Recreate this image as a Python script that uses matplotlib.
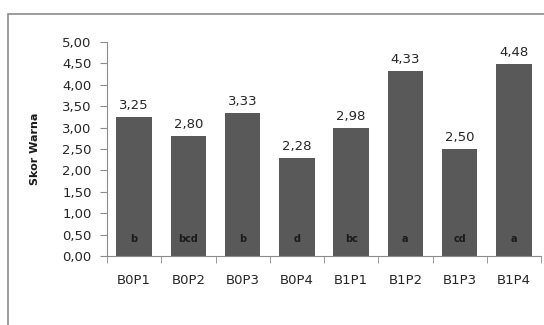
import numpy as np
import matplotlib.pyplot as plt
from matplotlib.patches import Rectangle
from matplotlib.ticker import FuncFormatter

# Skor warna per perlakuan
perlakuan = ['B0P1', 'B0P2', 'B0P3', 'B0P4', 'B1P1', 'B1P2', 'B1P3', 'B1P4']
skor = [3.25, 2.80, 3.33, 2.28, 2.98, 4.33, 2.50, 4.48]
notasi = ['b', 'bcd', 'b', 'd', 'bc', 'a', 'cd', 'a']

fig = plt.figure(figsize=(5.44, 3.25), dpi=100)
fig.patch.set_facecolor('white')

# frame around the chart area
fig.patches.append(Rectangle((8 / 544, -0.1), 1.2, 1 - 14 / 325 + 0.1,
                             transform=fig.transFigure, fill=False,
                             edgecolor='#8c8c8c', linewidth=1.2))

ax = fig.add_axes([107 / 544, 1 - 256 / 325, (541 - 107) / 544, (256 - 42) / 325])

x = np.arange(len(perlakuan))
ax.bar(x, skor, width=0.65, color='#595959', zorder=2)

for xi, v, n in zip(x, skor, notasi):
    ax.text(xi, v + 0.12, f'{v:.2f}'.replace('.', ','), ha='center', va='bottom',
            fontsize=9.5, color='#262626')
    ax.text(xi, 0.4, n, ha='center', va='center', fontsize=7,
            fontweight='bold', color='#1a1a1a')

ax.set_xlim(-0.5, len(perlakuan) - 0.5)
ax.set_ylim(0, 5)
ax.set_yticks(np.arange(0, 5.01, 0.5))
ax.yaxis.set_major_formatter(FuncFormatter(lambda v, p: f'{v:.2f}'.replace('.', ',')))

ax.set_xticks(x)
ax.set_xticklabels(perlakuan)
ax.set_xticks(np.arange(-0.5, len(perlakuan)), minor=True)
ax.tick_params(axis='x', which='major', length=0, pad=13, labelsize=9.5, labelcolor='#262626')
ax.tick_params(axis='x', which='minor', length=5, direction='out', color='#8c8c8c')
ax.tick_params(axis='y', length=5, direction='out', color='#8c8c8c', labelsize=9.5,
               labelcolor='#262626', pad=6)

for side in ['top', 'right']:
    ax.spines[side].set_visible(False)
for side in ['left', 'bottom']:
    ax.spines[side].set_color('#8c8c8c')

ax.set_ylabel('Skor Warna', fontsize=8, fontweight='bold', color='#1a1a1a')
ax.yaxis.set_label_coords(-0.155, 0.5)

fig.savefig('out.png', dpi=100)
